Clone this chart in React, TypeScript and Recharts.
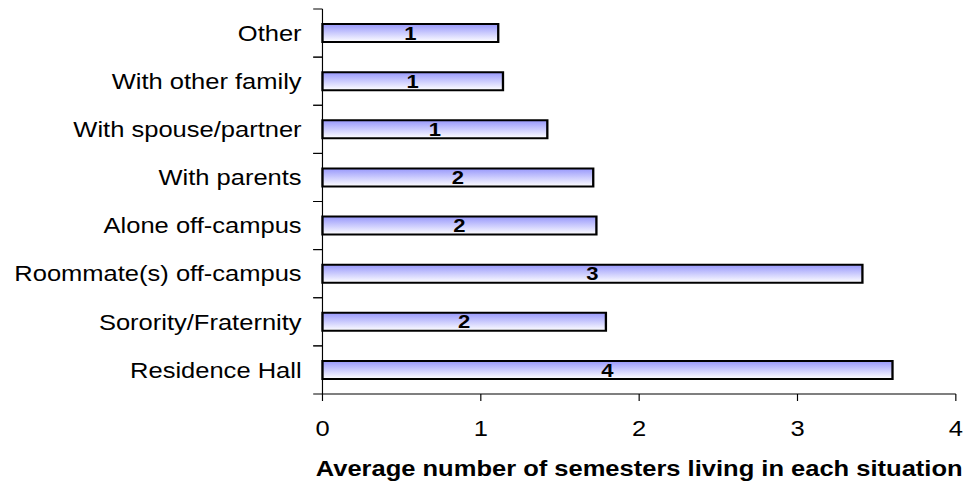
import { BarChart, Bar, XAxis, YAxis, LabelList } from 'recharts';

const situations = [
  'Other',
  'With other family',
  'With spouse/partner',
  'With parents',
  'Alone off-campus',
  'Roommate(s) off-campus',
  'Sorority/Fraternity',
  'Residence Hall',
];
const semesters = [1.11, 1.14, 1.42, 1.71, 1.73, 3.41, 1.79, 3.6];
const xTicks = [0, 1, 2, 3, 4];

const data = situations.map((name, i) => ({ name, value: semesters[i] }));

// the source image is stretched sideways, so draw narrower and scale up
const STRETCH = 1.16;
const WIDTH = 839;
const HEIGHT = 488;
const FONT = '"Liberation Sans", Arial, sans-serif';

const CategoryTick = (props: any) => {
  const { x, y, payload } = props;
  const half = payload?.offset > 0 ? payload.offset : 385 / situations.length / 2;
  return (
    <g>
      <line x1={x - 8} x2={x} y1={y - half} y2={y - half} stroke="#000" />
      <line x1={x - 8} x2={x} y1={y + half} y2={y + half} stroke="#000" />
      <text
        x={x - 18}
        y={y}
        dy="0.355em"
        textAnchor="end"
        fontSize={22}
        fontFamily={FONT}
        fill="#000"
      >
        {payload.value}
      </text>
    </g>
  );
};

export default function App() {
  return (
    <div
      style={{
        position: 'absolute',
        left: 0,
        top: 0,
        width: WIDTH,
        height: HEIGHT,
        transform: `scaleX(${STRETCH})`,
        transformOrigin: '0 0',
        background: '#fff',
      }}
    >
      <BarChart
        width={WIDTH}
        height={HEIGHT}
        data={data}
        layout="vertical"
        margin={{ top: 9, right: 15, bottom: 0, left: 0 }}
        barSize={18}
        style={{ fontFamily: FONT }}
      >
        <defs>
          <linearGradient id="barFill" x1="0" y1="0" x2="0" y2="1">
            <stop offset="0%" stopColor="#9797fb" />
            <stop offset="100%" stopColor="#ffffff" />
          </linearGradient>
        </defs>
        <XAxis
          type="number"
          domain={[0, 4]}
          ticks={xTicks}
          interval={0}
          height={94}
          stroke="#000"
          tickSize={7}
          tickMargin={19}
          tick={{ fill: '#000', fontSize: 22, fontFamily: FONT }}
          label={{
            value: 'Average number of semesters living in each situation',
            position: 'insideBottom',
            offset: 12,
            fill: '#000',
            fontSize: 22,
            fontWeight: 'bold',
            fontFamily: FONT,
          }}
        />
        <YAxis
          type="category"
          dataKey="name"
          width={278}
          stroke="#000"
          tickLine={false}
          tickSize={0}
          tickMargin={0}
          interval={0}
          tick={<CategoryTick />}
        />
        <Bar
          dataKey="value"
          fill="url(#barFill)"
          stroke="#000"
          strokeWidth={2}
          isAnimationActive={false}
        >
          <LabelList
            dataKey="value"
            position="center"
            formatter={(v: any) => Math.round(Number(v))}
            fill="#000"
            stroke="none"
            fontSize={19}
            fontWeight="bold"
            fontFamily={FONT}
          />
        </Bar>
      </BarChart>
    </div>
  );
}
